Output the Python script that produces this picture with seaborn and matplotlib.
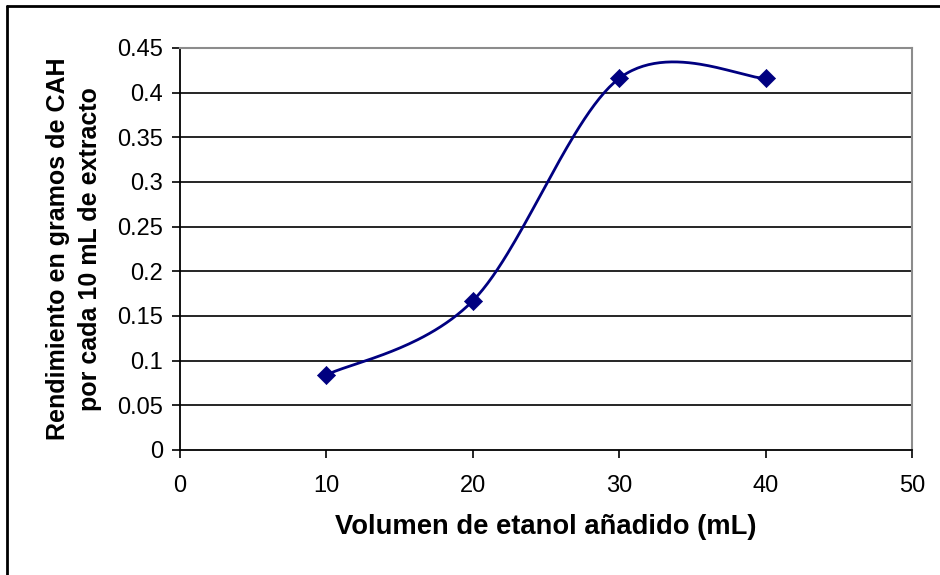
import numpy as np
import pandas as pd
import matplotlib
matplotlib.use("Agg")
import matplotlib.pyplot as plt
from matplotlib.lines import Line2D
import seaborn as sns

# Data
volumen = [10, 20, 30, 40]
rendimiento = [0.084, 0.167, 0.416, 0.416]
x_ticks = [0, 10, 20, 30, 40, 50]
y_ticks = [0, 0.05, 0.1, 0.15, 0.2, 0.25, 0.3, 0.35, 0.4, 0.45]
y_tick_labels = ["0", "0.05", "0.1", "0.15", "0.2", "0.25", "0.3", "0.35", "0.4", "0.45"]
x_label = "Volumen de etanol añadido (mL)"
y_label = "Rendimiento en gramos de CAH\npor cada 10 mL de extracto"

sns.set_theme(style="white")
plt.rcParams['font.family'] = ['Liberation Sans', 'DejaVu Sans']

NAVY = "#000080"


def excel_smooth(xs, ys, n=60):
    """Bezier smoothing similar to spreadsheet 'smoothed line'."""
    P = np.column_stack([xs, ys]).astype(float)
    m = len(P)
    out = []
    for i in range(m - 1):
        p0 = P[i]
        p3 = P[i + 1]
        prev = P[i - 1] if i > 0 else P[i]
        nxt = P[i + 2] if i + 2 < m else P[i + 1]
        c1 = p0 + (p3 - prev) / 6.0
        c2 = p3 - (nxt - p0) / 6.0
        t = np.linspace(0, 1, n)[:, None]
        seg = ((1 - t) ** 3) * p0 + 3 * ((1 - t) ** 2) * t * c1 + 3 * (1 - t) * t ** 2 * c2 + t ** 3 * p3
        if i > 0:
            seg = seg[1:]
        out.append(seg)
    curve = np.vstack(out)
    return curve[:, 0], curve[:, 1]


cx, cy = excel_smooth(volumen, rendimiento)
curve_df = pd.DataFrame({"x": cx, "y": cy})
pts_df = pd.DataFrame({"Volumen": volumen, "Rendimiento": rendimiento})

fig = plt.figure(figsize=(9.4, 5.75), dpi=100)
ax = fig.add_axes([180 / 940, 1 - 450 / 575, (912 - 180) / 940, (450 - 48) / 575])

ax.set_xlim(0, 50)
ax.set_ylim(0, 0.45)
ax.set_yticks(y_ticks)
ax.set_yticklabels(y_tick_labels)
ax.set_xticks(x_ticks)

for yv in y_ticks[1:-1]:
    ax.axhline(yv, color="black", lw=1.2, zorder=1)

sns.lineplot(data=curve_df, x="x", y="y", sort=False, color=NAVY, lw=2.0, ax=ax,
             zorder=3, legend=False)
sns.scatterplot(data=pts_df, x="Volumen", y="Rendimiento", marker="D", s=85,
                color=NAVY, edgecolor=NAVY, linewidth=0.5, ax=ax, zorder=4, legend=False)

for side in ["left", "bottom"]:
    ax.spines[side].set_color("black")
    ax.spines[side].set_linewidth(1.3)
for side in ["top", "right"]:
    ax.spines[side].set_color("#8c8c8c")
    ax.spines[side].set_linewidth(1.5)

ax.tick_params(axis="both", which="both", direction="out", length=6, width=1.2,
               color="black", labelsize=17, labelcolor="black",
               left=True, bottom=True)
ax.tick_params(axis="y", pad=6)
ax.tick_params(axis="x", pad=12)

ax.set_xlabel(x_label, fontsize=19.7, fontweight="bold", labelpad=12, color="black")
ax.set_ylabel(y_label, fontsize=18, fontweight="bold", labelpad=11, color="black",
              linespacing=1.45)

# Outer chart border (left and top visible)
fig.add_artist(Line2D([7 / 940, 7 / 940], [0, 1 - 6 / 575], transform=fig.transFigure,
                      color="black", lw=2))
fig.add_artist(Line2D([7 / 940, 1], [1 - 6 / 575, 1 - 6 / 575], transform=fig.transFigure,
                      color="black", lw=2))

fig.savefig("out.png", dpi=100, facecolor="white")
